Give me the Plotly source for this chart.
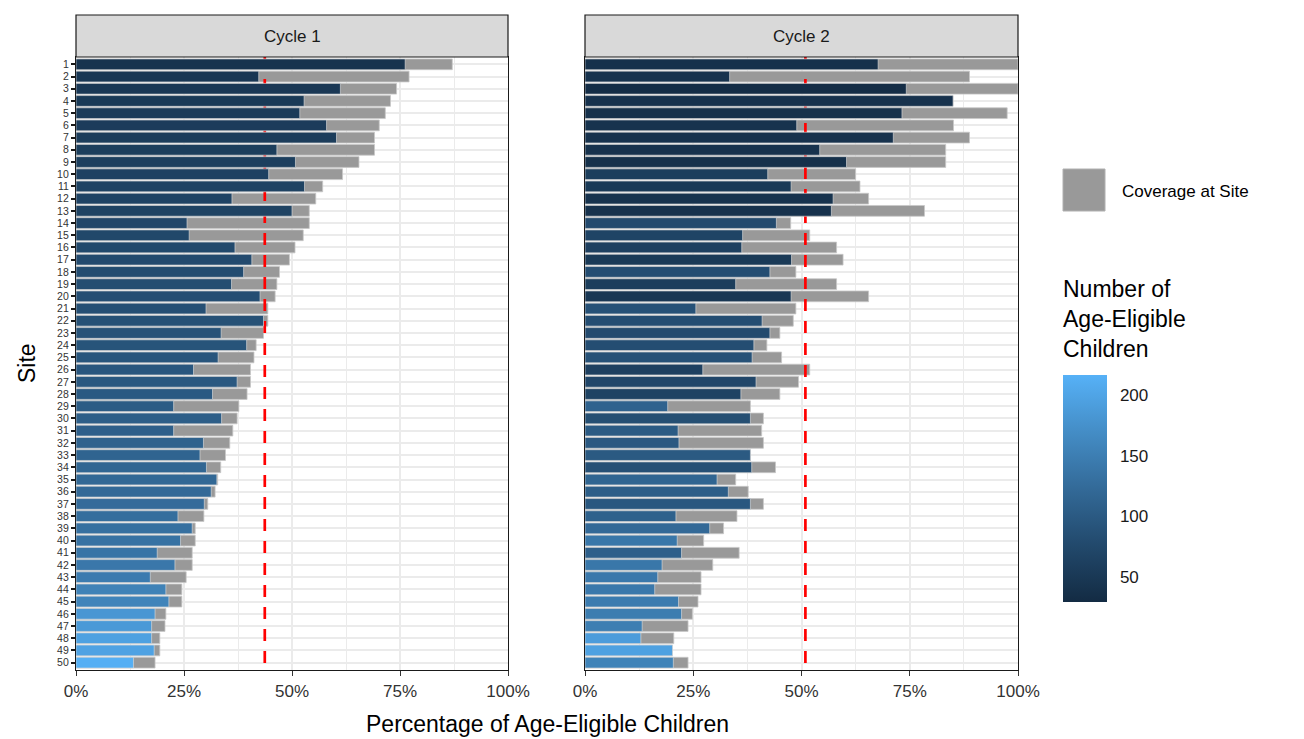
import plotly.graph_objects as go

sites = list(range(1, 51))

# Cycle 1
c1_total = [87.1, 77.1, 74.2, 72.8, 71.6, 70.2, 69.1, 69.1, 65.5, 61.7,
            57.1, 55.5, 54.0, 54.0, 52.6, 50.7, 49.4, 47.1, 46.5, 46.1,
            44.4, 44.4, 43.4, 41.7, 41.2, 40.4, 40.4, 39.6, 37.7, 37.3,
            36.3, 35.6, 34.6, 33.5, 32.8, 32.2, 30.5, 29.6, 27.6, 27.6,
            26.9, 26.9, 25.5, 24.5, 24.5, 20.8, 20.6, 19.4, 19.4, 18.3]
c1_subset = [76.2, 42.3, 61.2, 52.8, 51.8, 58.0, 60.3, 46.5, 50.8, 44.6,
             52.9, 36.1, 50.0, 25.7, 26.2, 36.8, 40.7, 38.8, 36.0, 42.6,
             30.1, 43.4, 33.6, 39.5, 32.9, 27.2, 37.3, 31.6, 22.6, 33.7,
             22.6, 29.5, 28.7, 30.2, 32.6, 31.3, 29.7, 23.6, 26.9, 24.2,
             18.8, 22.9, 17.2, 20.8, 21.5, 18.3, 17.5, 17.5, 18.1, 13.3]
c1_children = [42, 48, 50, 52, 54, 56, 57, 58, 60, 64,
               66, 67, 66, 72, 74, 76, 78, 80, 81, 83,
               85, 87, 89, 91, 93, 95, 97, 99, 103, 106,
               108, 111, 114, 117, 120, 122, 125, 128, 131, 134,
               137, 141, 146, 155, 158, 182, 186, 196, 198, 214]
c1_target = 43.7

# Cycle 2
c2_total = [100.0, 88.8, 100.0, 85.0, 97.5, 85.1, 88.8, 83.3, 83.3, 62.5,
            63.5, 65.5, 78.4, 47.5, 51.9, 58.1, 59.6, 48.7, 58.1, 65.5,
            48.7, 48.1, 45.0, 42.0, 45.4, 51.9, 49.3, 45.0, 38.2, 41.2,
            40.8, 41.2, 38.2, 44.0, 34.8, 37.7, 41.2, 35.1, 32.0, 27.4,
            35.6, 29.5, 26.8, 26.8, 26.1, 24.8, 23.8, 20.5, 20.2, 23.8]
c2_subset = [67.7, 33.4, 74.2, 85.0, 73.2, 48.9, 71.2, 54.2, 60.4, 42.2,
             47.6, 57.3, 56.9, 44.2, 36.4, 36.2, 47.7, 42.7, 34.8, 47.6,
             25.6, 40.9, 42.7, 39.0, 38.6, 27.2, 39.5, 36.0, 19.1, 38.2,
             21.5, 21.7, 38.2, 38.5, 30.5, 33.1, 38.2, 21.0, 28.8, 21.3,
             22.3, 17.8, 16.8, 16.1, 21.6, 22.3, 13.2, 12.9, 20.2, 20.4]
c2_children = [38, 42, 32, 40, 38, 42, 40, 40, 38, 58,
               52, 42, 40, 78, 68, 62, 52, 82, 58, 48,
               88, 82, 78, 82, 88, 62, 72, 66, 112, 84,
               102, 98, 100, 86, 116, 106, 96, 110, 122, 140,
               108, 140, 142, 142, 146, 148, 150, 190, 196, 156]
c2_target = 50.9

x_ticks = [0, 25, 50, 75, 100]
x_ticktext = ["0%", "25%", "50%", "75%", "100%"]

OFF = 8  # page body margin
W, H = 1304 - OFF, 739 - OFF
FONT = "Liberation Sans"
GREY = "#999999"
CMIN, CMAX = 29, 217
colorscale = [[0.0, "#132B43"], [0.25, "#22496C"], [0.5, "#336A98"],
              [0.75, "#448DC6"], [1.0, "#56B1F7"]]

def px_x(p):
    return (p - OFF) / W

def px_y(p):
    return 1 - (p - OFF) / H

p1 = [px_x(76), px_x(508)]
p2 = [px_x(585), px_x(1018)]
ydom = [px_y(670), px_y(57)]

fig = go.Figure()

panels = [
    (c1_total, c1_subset, c1_children, c1_target, "x", "y", "x3"),
    (c2_total, c2_subset, c2_children, c2_target, "x2", "y2", "x4"),
]
for i, (tot, sub, ch, tgt, xa, ya, xo) in enumerate(panels):
    fig.add_trace(go.Bar(
        y=sites, x=tot, orientation="h", xaxis=xa, yaxis=ya,
        marker=dict(color=GREY, line=dict(color="#C8C8C8", width=0.8)),
        width=0.88, name="Coverage at Site", showlegend=False,
        hoverinfo="x+y"))
    fig.add_trace(go.Scatter(
        x=[tgt, tgt], y=[0.4, 50.6], mode="lines", xaxis=xa, yaxis=ya,
        line=dict(color="#FF0000", width=2.7, dash="12px,10px"),
        showlegend=False, hoverinfo="skip"))
    fig.add_trace(go.Bar(
        y=sites, x=sub, orientation="h", xaxis=xo, yaxis=ya,
        width=0.88, showlegend=False,
        marker=dict(
            color=ch, colorscale=colorscale, cmin=CMIN, cmax=CMAX,
            line=dict(color="rgba(220,220,220,0.8)", width=0.8),
            showscale=(i == 0),
            colorbar=dict(
                x=px_x(1063), xanchor="left", xref="paper",
                y=px_y(602), yanchor="bottom", yref="paper",
                lenmode="pixels", len=227, thickness=44,
                outlinewidth=0,
                tickvals=[50, 100, 150, 200],
                ticks="outside", ticklen=10, tickcolor="white", tickwidth=1,
                tickfont=dict(family=FONT, size=17, color="#1a1a1a"),
                ypad=0, xpad=0,
            )),
        name="Children", hoverinfo="x+y"))

xcommon = dict(range=[0, 100], tickvals=x_ticks, ticktext=x_ticktext,
               showgrid=True, gridcolor="#EBEBEB", gridwidth=1.5,
               minor=dict(dtick=12.5, tick0=0, showgrid=True,
                          gridcolor="#EBEBEB", gridwidth=1),
               ticks="outside", ticklen=5, tickcolor="#333333", tickwidth=1.2,
               tickfont=dict(family=FONT, size=17, color="#333333"),
               showline=True, linecolor="#1a1a1a", linewidth=1.2, mirror=True,
               zeroline=False, fixedrange=True, automargin=False)
ycommon = dict(range=[50.6, 0.4], tickvals=sites, ticktext=[str(s) for s in sites],
               showgrid=True, gridcolor="#EBEBEB", gridwidth=1.5,
               showline=True, linecolor="#1a1a1a", linewidth=1.2, mirror=True,
               zeroline=False, fixedrange=True, automargin=False)

fig.update_layout(
    width=W, height=H,
    margin=dict(l=0, r=0, t=0, b=0),
    paper_bgcolor="white", plot_bgcolor="white",
    barmode="overlay", bargap=0.12,
    showlegend=False,
    font=dict(family=FONT, color="black"),
    xaxis=dict(domain=p1, anchor="y", **xcommon),
    xaxis2=dict(domain=p2, anchor="y2", **xcommon),
    xaxis3=dict(overlaying="x", anchor="y", range=[0, 100], visible=False,
                fixedrange=True),
    xaxis4=dict(overlaying="x2", anchor="y2", range=[0, 100], visible=False,
                fixedrange=True),
    yaxis=dict(domain=ydom, anchor="x", ticks="outside", ticklen=4,
               tickcolor="#1a1a1a", tickwidth=1.5,
               tickfont=dict(family=FONT, size=10.5, color="#333333"),
               **ycommon),
    yaxis2=dict(domain=ydom, anchor="x2", showticklabels=False, ticks="",
                **ycommon),
)

# Strip headers
for dom, label in [(p1, "Cycle 1"), (p2, "Cycle 2")]:
    fig.add_shape(type="rect", xref="paper", yref="paper",
                  x0=dom[0], x1=dom[1], y0=px_y(57), y1=px_y(15),
                  fillcolor="#D9D9D9", line=dict(color="#1a1a1a", width=1.2),
                  layer="above")
    fig.add_annotation(x=(dom[0] + dom[1]) / 2, y=px_y(36), xref="paper",
                       yref="paper", xanchor="center", yanchor="middle",
                       text=label, showarrow=False,
                       font=dict(family=FONT, size=17, color="#1a1a1a"))

# Legend for grey bars (drawn)
fig.add_shape(type="rect", xref="paper", yref="paper",
              x0=px_x(1063), x1=px_x(1105), y0=px_y(211), y1=px_y(169),
              fillcolor=GREY, line=dict(color="#B0B0B0", width=1))
fig.add_annotation(x=px_x(1120), y=px_y(191), xref="paper", yref="paper",
                   xanchor="left", yanchor="middle", text="Coverage at Site",
                   showarrow=False,
                   font=dict(family=FONT, size=17, color="black"))

# Colorbar title
fig.add_annotation(x=px_x(1061), y=px_y(364), xref="paper", yref="paper",
                   xanchor="left", yanchor="bottom", align="left",
                   text="Number of<br>Age-Eligible<br>Children",
                   showarrow=False,
                   font=dict(family=FONT, size=23, color="black"))

# Axis titles
fig.add_annotation(x=px_x(547), y=px_y(724), xref="paper", yref="paper",
                   xanchor="center", yanchor="middle",
                   text="Percentage of Age-Eligible Children", showarrow=False,
                   font=dict(family=FONT, size=23, color="black"))
fig.add_annotation(x=px_x(27), y=px_y(363), xref="paper", yref="paper",
                   xanchor="center", yanchor="middle",
                   text="Site", textangle=-90, showarrow=False,
                   font=dict(family=FONT, size=23, color="black"))

fig.write_html("out.html")
